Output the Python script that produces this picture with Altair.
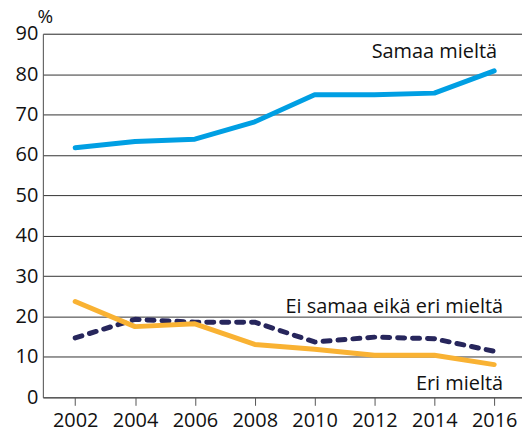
import altair as alt
import pandas as pd

years = [2002, 2004, 2006, 2008, 2010, 2012, 2014, 2016]
samaa = [61.8, 63.3, 63.9, 68.2, 74.9, 74.9, 75.3, 80.8]
ei_samaa_eika_eri = [14.7, 19.3, 18.6, 18.6, 13.7, 14.9, 14.5, 11.4]
eri = [23.7, 17.5, 18.2, 13.1, 11.9, 10.4, 10.4, 8.1]

series_names = ["Samaa mieltä", "Ei samaa eikä eri mieltä", "Eri mieltä"]
series_colors = ["#009FE3", "#27265C", "#F9B233"]
label_x = [2016.1, 2016.3, 2016.3]
label_y = [85.5, 22.3, 3.3]

FONT = "Open Sans"

rows = []
for name, vals in zip(series_names, [samaa, ei_samaa_eika_eri, eri]):
    for y, v in zip(years, vals):
        rows.append({"year": y, "value": v, "series": name})
df = pd.DataFrame(rows)
labels = pd.DataFrame({"series": series_names, "x": label_x, "y": label_y})

xscale = alt.Scale(domain=[2000.92, 2016.93], nice=False, zero=False)
yscale = alt.Scale(domain=[0, 90], nice=False)

base_x = alt.X("year:Q", scale=xscale,
               axis=alt.Axis(values=years, format="d", title=None, grid=False,
                             labelFontSize=20, labelFont=FONT, labelColor="#111",
                             tickSize=8, tickColor="#555", domainColor="#555",
                             labelPadding=5, labelFlush=False))
base_y = alt.Y("value:Q", scale=yscale,
               axis=alt.Axis(values=list(range(0, 91, 10)), title="%", titleAngle=0,
                             titleX=-6, titleY=-11, titleAlign="left",
                             titleBaseline="alphabetic", titleFontSize=19,
                             titleFont=FONT, titleFontWeight="normal", titleColor="#111",
                             labelFontSize=20, labelFont=FONT, labelColor="#111",
                             ticks=False, labelPadding=5, grid=True,
                             gridColor="#333", gridWidth=1, domainColor="#555"))

def line_for(name, color, dash=None):
    kw = dict(strokeWidth=5, color=color, strokeCap="round", strokeJoin="round")
    if dash:
        kw["strokeDash"] = dash
    return alt.Chart(df).transform_filter(
        alt.datum.series == name
    ).mark_line(**kw).encode(x=base_x, y=base_y)

blue = line_for(series_names[0], series_colors[0])
navy = line_for(series_names[1], series_colors[1], dash=[7, 8])
orange = line_for(series_names[2], series_colors[2])

text = alt.Chart(labels).mark_text(
    align="right", baseline="middle", fontSize=20, font=FONT, color="#111"
).encode(x=alt.X("x:Q", scale=xscale), y=alt.Y("y:Q", scale=yscale), text="series:N")

chart = alt.layer(blue, navy, orange, text).properties(
    width=481, height=365,
    autosize=alt.AutoSizeParams(type="none"),
    padding={"left": 35, "top": 25, "right": 0, "bottom": 37},
).configure_view(stroke=None).configure(background="white")

chart.save("out.html", embed_options={"renderer": "svg", "actions": False})
